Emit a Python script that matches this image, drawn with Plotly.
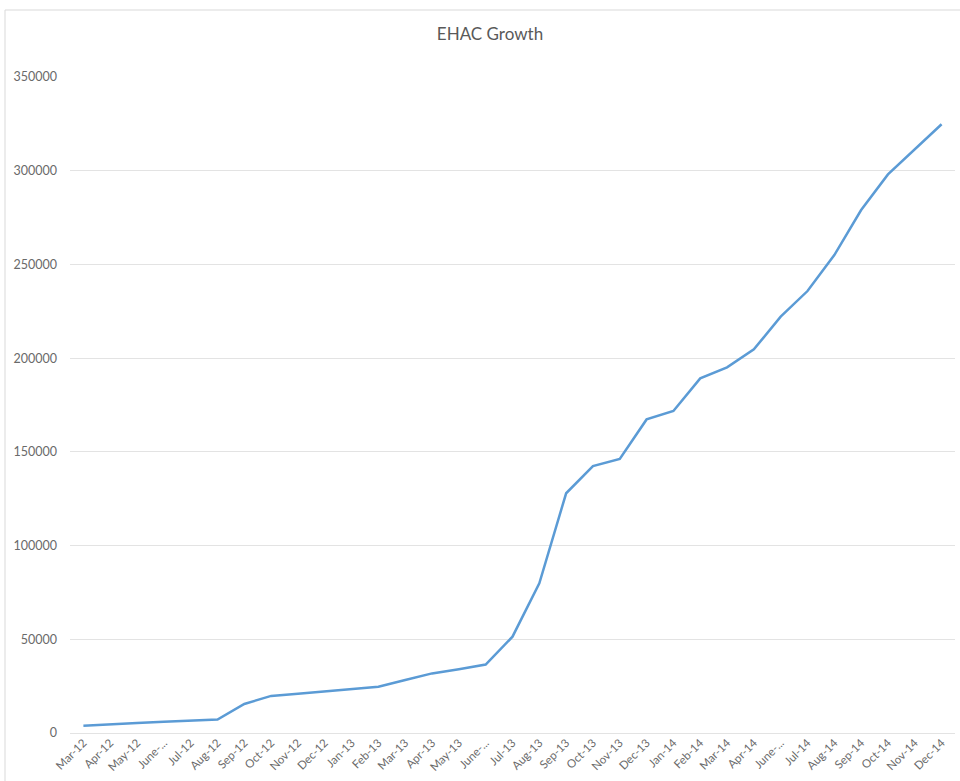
import plotly.graph_objects as go

months = ["Mar-12", "Apr-12", "May-12", "June-...", "Jul-12", "Aug-12", "Sep-12", "Oct-12",
          "Nov-12", "Dec-12", "Jan-13", "Feb-13", "Mar-13", "Apr-13", "May-13", "June-...",
          "Jul-13", "Aug-13", "Sep-13", "Oct-13", "Nov-13", "Dec-13", "Jan-14", "Feb-14",
          "Mar-14", "Apr-14", "June-...", "Jul-14", "Aug-14", "Sep-14", "Oct-14", "Nov-14", "Dec-14"]
values = [3900, 4800, 5400, 6000, 6400, 7200, 15500, 19800,
          21000, 22200, 23300, 24700, 28300, 31800, 34000, 36500,
          51400, 79900, 127900, 142400, 146200, 167300, 171800, 189200,
          195100, 204700, 222100, 235800, 255000, 279000, 298000, 311600, 324800]
y_ticks = [0, 50000, 100000, 150000, 200000, 250000, 300000, 350000]

x_idx = list(range(len(months)))

fig = go.Figure()
fig.add_trace(go.Scatter(
    x=x_idx, y=values, mode="lines",
    line=dict(color="#5B9BD5", width=2.5),
    showlegend=False, hoverinfo="y",
))

fig.update_layout(
    width=960, height=781,
    paper_bgcolor="white", plot_bgcolor="white",
    margin=dict(l=70, r=5, t=77, b=48),
    font=dict(family="Lato, Open Sans, sans-serif", color="#666666"),
    title=dict(text="EHAC Growth", x=490/960, xanchor="center", xref="container",
               y=1 - 34/781, yanchor="middle", yref="container",
               font=dict(size=17, color="#595959")),
    xaxis=dict(
        tickmode="array", tickvals=x_idx, ticktext=months,
        range=[-0.5, len(months) - 0.5],
        tickangle=-45, tickfont=dict(size=11.5, color="#6A6A6A"),
        showgrid=False, zeroline=False, showline=False, ticks="",
    ),
    yaxis=dict(
        range=[0, 350000], tickvals=y_ticks, tickformat="d",
        showgrid=True, gridcolor="#E3E3E3", gridwidth=1,
        zeroline=True, zerolinecolor="#E3E3E3", zerolinewidth=1,
        tickfont=dict(size=12.5, color="#6A6A6A"), ticks="", ticklen=0,
        ticklabelstandoff=12,
        showline=False,
    ),
)
fig.update_layout(
    shapes=[dict(type="rect", xref="paper", yref="paper",
                 x0=-65/885, x1=1.1, y0=-0.2, y1=1 + 67/656,
                 line=dict(color="#D9D9D9", width=1), fillcolor="rgba(0,0,0,0)",
                 layer="below")]
)
fig.update_xaxes(automargin=False)
fig.update_yaxes(automargin=False)

fig.write_html("out.html")
